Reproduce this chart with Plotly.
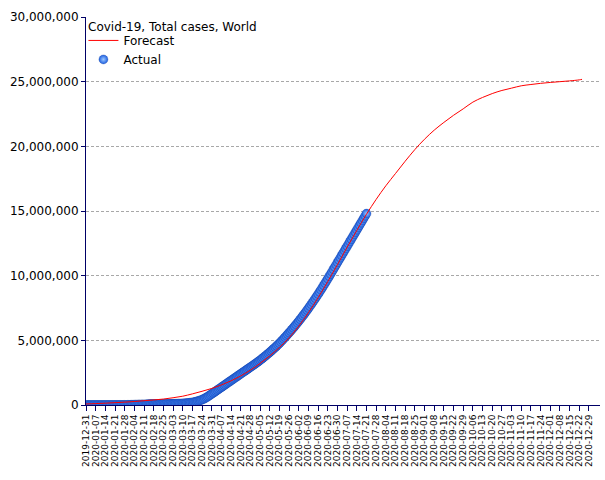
import pandas as pd
import plotly.graph_objects as go

# ---- data ----
chart_title = "Covid-19, Total cases, World"
actual_start = "2019-12-31"
# daily cumulative actual cases, in thousands
actual_k = [
    0.03, 0.03, 0.03, 0.04, 0.04, 0.06, 0.06, 0.06, 0.06, 0.06, 0.06, 0.06, 0.06, 0.06,
    0.06, 0.06, 0.06, 0.06, 0.06, 0.08, 0.28,
    0.31, 0.57, 0.64, 0.92, 1.4, 2.1, 2.9, 5.6, 6.2, 8.2, 9.8,
    11.9, 16.8, 19.9, 23.9, 27.6, 30.8, 34.4, 37.1, 40.2, 42.8, 44.8, 45.2, 60.4, 66.9,
    69.0, 71.2, 73.3, 75.2, 75.7, 76.2, 76.8, 78.6, 78.9, 79.6, 80.4, 81.4, 82.7, 84.1, 86.0,
    88.4, 90.3, 92.8, 95.1, 97.9, 101.8, 105.8,
    109.8, 113.6, 118.9, 126.2, 134.6, 145.2, 156.1, 170,
    185, 200, 218, 242, 270,
    303, 335, 372, 412, 460,
    515, 575, 640, 710, 782,
    856, 930, 1004, 1078, 1152,
    1226, 1300, 1374, 1448, 1522,
    1596, 1670, 1744, 1818, 1892, 1966,
    2040, 2114, 2188, 2262, 2336, 2410, 2484,
    2558, 2632, 2706, 2780, 2854, 2928, 3002,
    3076, 3151, 3228, 3306, 3386, 3467, 3550, 3634, 3720, 3807,
    3896, 3987, 4079, 4173, 4269, 4366, 4465, 4566, 4669, 4774, 4885,
    5000, 5115, 5232, 5350, 5468, 5588, 5710, 5834, 5960,
    6088, 6218, 6350, 6484, 6620, 6758, 6898, 7040, 7184, 7330,
    7478, 7628, 7780, 7934, 8090, 8248, 8408, 8570, 8734, 8900,
    9068, 9238, 9410, 9584, 9760, 9938,
    10118, 10298, 10478, 10658, 10838, 11018, 11198, 11378, 11558, 11738,
    11918, 12098, 12278, 12458, 12638, 12818, 12998, 13178, 13358, 13538,
    13718, 13898, 14078, 14258, 14438, 14618, 14798,
]

# weekly forecast values (millions), 2019-12-31 .. 2020-12-22, then end point
forecast_m = [
    0.08, 0.11, 0.14, 0.18, 0.22, 0.27, 0.33, 0.39, 0.46, 0.56,
    0.68, 0.86, 1.06, 1.28, 1.55, 1.87, 2.25, 2.70, 3.22, 3.80,
    4.45, 5.2, 6.1, 7.15, 8.3, 9.55, 10.85, 12.2, 13.5, 14.75,
    15.9, 16.95, 17.9, 18.85, 19.75, 20.55, 21.25, 21.85, 22.4, 22.9,
    23.42, 23.78, 24.08, 24.32, 24.5, 24.68, 24.78, 24.87, 24.94, 25.0,
    25.06, 25.14,
]
forecast_end_date = "2020-12-24"
forecast_end_m = 25.18

tick_dates = pd.date_range("2019-12-31", "2020-12-29", freq="7D")
tick_labels = [d.strftime("%Y-%m-%d") for d in tick_dates]
y_ticks = [0, 5e6, 10e6, 15e6, 20e6, 25e6, 30e6]

# ---- build ----
actual_dates = pd.date_range(actual_start, periods=len(actual_k), freq="D")
actual_vals = [v * 1000 for v in actual_k]
fc_dates = list(pd.date_range("2019-12-31", periods=len(forecast_m), freq="7D")) + [pd.Timestamp(forecast_end_date)]
fc_vals = [v * 1e6 for v in forecast_m] + [forecast_end_m * 1e6]

fig = go.Figure()
fig.add_trace(go.Scatter(
    x=actual_dates, y=actual_vals, mode="markers", name="Actual", legendrank=2,
    marker=dict(size=9, color="#1d5fe0",
                gradient=dict(type="radial", color="#9cc8ff"),
                line=dict(color="#123a9a", width=0.3)),
))
fig.add_trace(go.Scatter(
    x=fc_dates, y=fc_vals, mode="lines", name="Forecast", legendrank=1,
    line=dict(color="#ff0000", width=1, shape="spline"),
))

navy = "#000066"
fig.update_layout(
    width=605, height=480,
    margin=dict(l=86, r=5, t=17, b=75),
    paper_bgcolor="white", plot_bgcolor="white",
    font=dict(family="DejaVu Sans", size=12, color="#000000"),
    showlegend=True,
    legend=dict(
        x=-0.005, y=0.977, xanchor="left", yanchor="top",
        bgcolor="rgba(0,0,0,0)",
        font=dict(size=12), itemwidth=30, tracegroupgap=0,
        borderwidth=0,
    ),
    annotations=[dict(
        text=chart_title, xref="paper", yref="paper", x=0, y=1,
        xanchor="left", yanchor="top", yshift=-1, xshift=0,
        showarrow=False, font=dict(size=12, color="#000000"),
    )],
    xaxis=dict(
        range=["2019-12-31", "2021-01-06"],
        tickmode="array", tickvals=tick_dates, ticktext=tick_labels,
        tickangle=-90, tickfont=dict(size=9, family="DejaVu Sans"),
        ticks="outside", ticklen=5, tickcolor=navy,
        showline=True, linecolor=navy, linewidth=1,
        showgrid=False, zeroline=False,
    ),
    yaxis=dict(
        range=[0, 30e6], tickmode="array", tickvals=y_ticks,
        ticktext=[f"{int(v):,}" for v in y_ticks],
        tickfont=dict(size=12),
        ticks="outside", ticklen=4, tickcolor=navy,
        showline=True, linecolor=navy, linewidth=1,
        showgrid=True, gridcolor="#a8a8a8", griddash="3px,2px", gridwidth=1,
        zeroline=False,
    ),
)

fig.write_html("out.html")
